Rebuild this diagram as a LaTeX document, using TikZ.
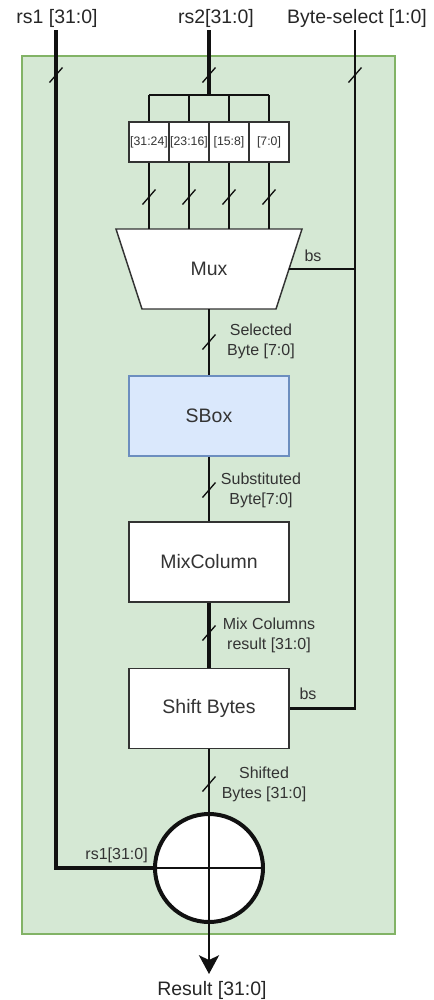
\documentclass[tikz,border=0pt]{standalone}
\usepackage{fontspec}
\setmainfont{Liberation Sans}
\usetikzlibrary{arrows.meta}
\definecolor{panelfill}{HTML}{D5E8D4}
\definecolor{panelline}{HTML}{82B366}
\definecolor{sboxfill}{HTML}{DAE8FC}
\definecolor{sboxline}{HTML}{6C8EBF}
\definecolor{ink}{HTML}{333333}
\definecolor{wirec}{HTML}{111111}

\begin{document}
\begin{tikzpicture}[x=0.75pt,y=-0.75pt,
  box/.style={draw=ink, line width=1.1pt, fill=white, minimum width=120pt,
    minimum height=60pt, inner sep=0pt, font=\fontsize{14.6}{17}\selectfont, text=ink},
  slice/.style={draw=ink, line width=1.1pt, fill=white, minimum width=30pt,
    minimum height=30pt, inner sep=0pt, font=\fontsize{9.2}{10}\selectfont, text=ink},
  wire/.style={line width=1.9pt, draw=wirec},
  sel/.style={line width=2.2pt, draw=wirec},
  bus/.style={line width=3pt, draw=wirec},
  lbl/.style={font=\fontsize{12}{15}\selectfont, text=ink, align=center, inner sep=0pt},
  io/.style={font=\fontsize{14.6}{17}\selectfont, text=black!85, inner sep=0pt},
  busmark/.pic={\draw[line width=1pt, wirec] (-6.5,7.5) -- (6.5,-7.5);}
]
\useasboundingbox (0,0) rectangle (433,1000);

% enclosing block
\draw[fill=panelfill, draw=panelline, line width=1.5pt] (22,56) rectangle (395,934);

% input and output labels
\node[io] (lrs1) at (57,18) {rs1 [31:0]};
\node[io] (lrs2) at (216,18) {rs2[31:0]};
\node[io] (lbsel) at (357,18) {Byte-select [1:0]};
\node[io] (lres) at (212,990) {Result [31:0]};

\coordinate (in1) at (56,30);
\coordinate (in2) at (209,30);
\coordinate (in3) at (355,30);
\coordinate (split) at (209,95);
\coordinate (splitl) at (149,95);
\coordinate (splitr) at (269,95);
\coordinate (bsj) at (355,269);
\coordinate (outp) at (209,974);

% byte slices
\node[slice] (s3) at (149,142) {[31:24]};
\node[slice] (s2) at (189,142) {[23:16]};
\node[slice] (s1) at (229,142) {[15:8]};
\node[slice] (s0) at (269,142) {[7:0]};

% multiplexer
\draw[draw=ink, line width=1.1pt, fill=white] (116,229) -- (302,229) -- (276,309) -- (142,309) -- cycle;
\node[inner sep=0pt, minimum width=100pt, minimum height=60pt,
  font=\fontsize{14.6}{17}\selectfont, text=ink] (mux) at (209,269) {Mux};
\coordinate (muxr) at (289,269);
\coordinate (m3) at (149,229);
\coordinate (m2) at (189,229);
\coordinate (m1) at (229,229);
\coordinate (m0) at (269,229);

% processing stages
\node[box, fill=sboxfill, draw=sboxline] (sbox) at (209,416) {SBox};
\node[box] (mix) at (209,562) {MixColumn};
\node[box] (shift) at (209,708.5) {Shift Bytes};
\node[circle, draw=wirec, line width=3pt, fill=white, minimum size=81pt, inner sep=0pt] (xor) at (209,868) {};

% rs2 fan-out to the byte slices
\draw[bus] (in2) -- (split);
\draw[wire] (splitl) -- (splitr);
\draw[wire] (splitl) -- (s3.north);
\draw[wire] (split -| s2.north) -- (s2.north);
\draw[wire] (split -| s1.north) -- (s1.north);
\draw[wire] (splitr) -- (s0.north);
\draw[wire] (s3.south) -- (m3);
\draw[wire] (s2.south) -- (m2);
\draw[wire] (s1.south) -- (m1);
\draw[wire] (s0.south) -- (m0);

% datapath
\draw[wire] (mux.south |- 0,309) -- (sbox.north);
\draw[wire] (sbox.south) -- (mix.north);
\draw[bus] (mix.south) -- (shift.north);
\draw[wire] (shift.south) -- (xor.north);
\draw[wire] (xor.north) -- (xor.south);
\draw[bus] (in1) |- (xor.west);
\draw[wire] (xor.west) -- (xor.east);
\draw[wire, -{Stealth[length=14pt, width=15pt, inset=3.5pt]}] (xor.south) -- (outp);

% byte select
\draw[sel] (in3) |- (shift.east);
\draw[wire] (bsj) -- (muxr);

% bus width marks
\pic at (56,75) {busmark};
\pic at (209,75) {busmark};
\pic at (355,75) {busmark};
\pic at (149,197) {busmark};
\pic at (189,197) {busmark};
\pic at (229,197) {busmark};
\pic at (269,197) {busmark};
\pic at (209,342) {busmark};
\pic at (209,490) {busmark};
\pic at (209,633) {busmark};
\pic at (209,784) {busmark};

% signal labels
\node[lbl] (lsel) at (261,341) {Selected\\Byte [7:0]};
\node[lbl] (lsub) at (261,490) {Substituted\\Byte[7:0]};
\node[lbl] (lmix) at (269,635) {Mix Columns\\result [31:0]};
\node[lbl] (lshf) at (264,784) {Shifted\\Bytes [31:0]};
\node[lbl, anchor=east] (lrs1b) at (148,855) {rs1[31:0]};
\node[lbl] (lbs1) at (313,256) {bs};
\node[lbl] (lbs2) at (308,694) {bs};
\end{tikzpicture}
\end{document}
